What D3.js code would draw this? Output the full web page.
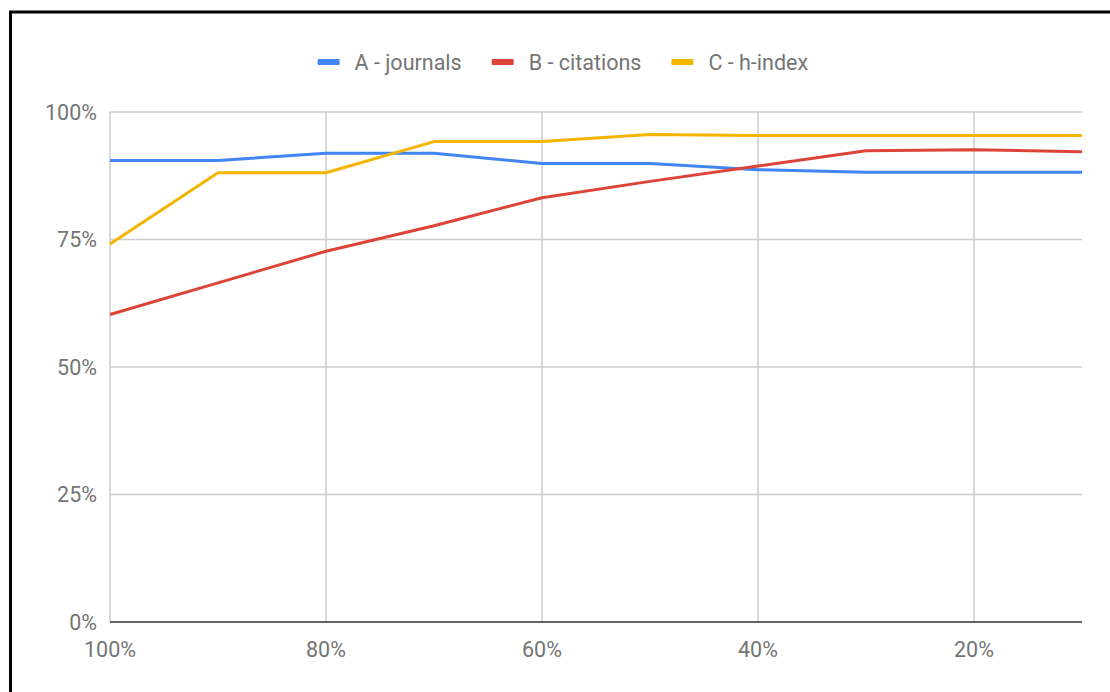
<!DOCTYPE html>
<html><head><meta charset="utf-8">
<script src="https://cdn.jsdelivr.net/npm/d3@7"></script>
<style>html,body{margin:0;padding:0;background:#fff;overflow:hidden}</style>
</head><body>
<svg id="chart" width="1110" height="692"></svg>
<script>
const xValues = [100, 90, 80, 70, 60, 50, 40, 30, 20, 10];
const xTicks = [100, 80, 60, 40, 20];
const yTicks = [0, 0.25, 0.5, 0.75, 1];
const seriesNames = ["A - journals", "B - citations", "C - h-index"];
const journals  = [0.905, 0.905, 0.919, 0.919, 0.899, 0.899, 0.887, 0.882, 0.882, 0.882];
const citations = [0.603, 0.665, 0.727, 0.777, 0.832, 0.864, 0.894, 0.924, 0.926, 0.922];
const hindex    = [0.741, 0.881, 0.881, 0.942, 0.942, 0.956, 0.954, 0.954, 0.954, 0.954];
const colors = ["#4285F4", "#DB4437", "#F4B400"];
const seriesData = [journals, citations, hindex];

const svg = d3.select("#chart");
const font = "Roboto, 'Noto Sans', sans-serif";
const textColor = "#757575";
const fs = 21.5;

// frame
svg.append("rect").attr("x", 10.5).attr("y", 12).attr("width", 1200).attr("height", 800)
  .attr("fill", "none").attr("stroke", "#000").attr("stroke-width", 3);

const x = d3.scaleLinear().domain([100, 10]).range([110, 1082]);
const y = d3.scaleLinear().domain([0, 1]).range([622, 112]);

// horizontal grid
svg.append("g").selectAll("line").data(yTicks.filter(d => d > 0)).join("line")
  .attr("x1", x(100)).attr("x2", x(10)).attr("y1", d => y(d)).attr("y2", d => y(d))
  .attr("stroke", "#cccccc").attr("stroke-width", 1.5);
// vertical grid
svg.append("g").selectAll("line").data(xTicks).join("line")
  .attr("x1", d => x(d)).attr("x2", d => x(d)).attr("y1", y(0)).attr("y2", y(1))
  .attr("stroke", "#cccccc").attr("stroke-width", 1.5);

// y labels
const yFmt = d3.format(".0%");
svg.append("g").selectAll("text").data(yTicks).join("text")
  .attr("x", 97).attr("y", d => y(d)).attr("dy", "0.36em")
  .attr("text-anchor", "end").attr("font-family", font).attr("font-size", fs)
  .attr("fill", textColor).text(d => yFmt(d));

// x labels
svg.append("g").selectAll("text").data(xTicks).join("text")
  .attr("x", d => x(d)).attr("y", 657)
  .attr("text-anchor", "middle").attr("font-family", font).attr("font-size", fs)
  .attr("fill", textColor).text(d => d + "%");

// lines
const line = d3.line().x((d, i) => x(xValues[i])).y(d => y(d));
svg.append("g").selectAll("path").data(seriesData).join("path")
  .attr("d", d => line(d)).attr("fill", "none")
  .attr("stroke", (d, i) => colors[i]).attr("stroke-width", 3)
  .attr("stroke-linejoin", "round");

// baseline
svg.append("line").attr("x1", x(100)).attr("x2", x(10)).attr("y1", y(0)).attr("y2", y(0))
  .attr("stroke", "#333").attr("stroke-width", 1.6);

// legend
const legend = svg.append("g");
const items = legend.selectAll("g").data(seriesNames).join("g");
items.append("rect").attr("x", 0).attr("y", -3).attr("width", 22).attr("height", 6)
  .attr("rx", 1).attr("fill", (d, i) => colors[i]);
items.append("text").attr("x", 37).attr("y", 0).attr("dy", "0.36em")
  .attr("font-family", font).attr("font-size", fs).attr("fill", textColor).text(d => d);
let cx = 0;
items.each(function() {
  const w = this.getBBox().width;
  d3.select(this).attr("transform", `translate(${cx},0)`);
  cx += w + 30;
});
const total = cx - 30;
legend.attr("transform", `translate(${563 - total / 2},62)`);
</script>
</body></html>
